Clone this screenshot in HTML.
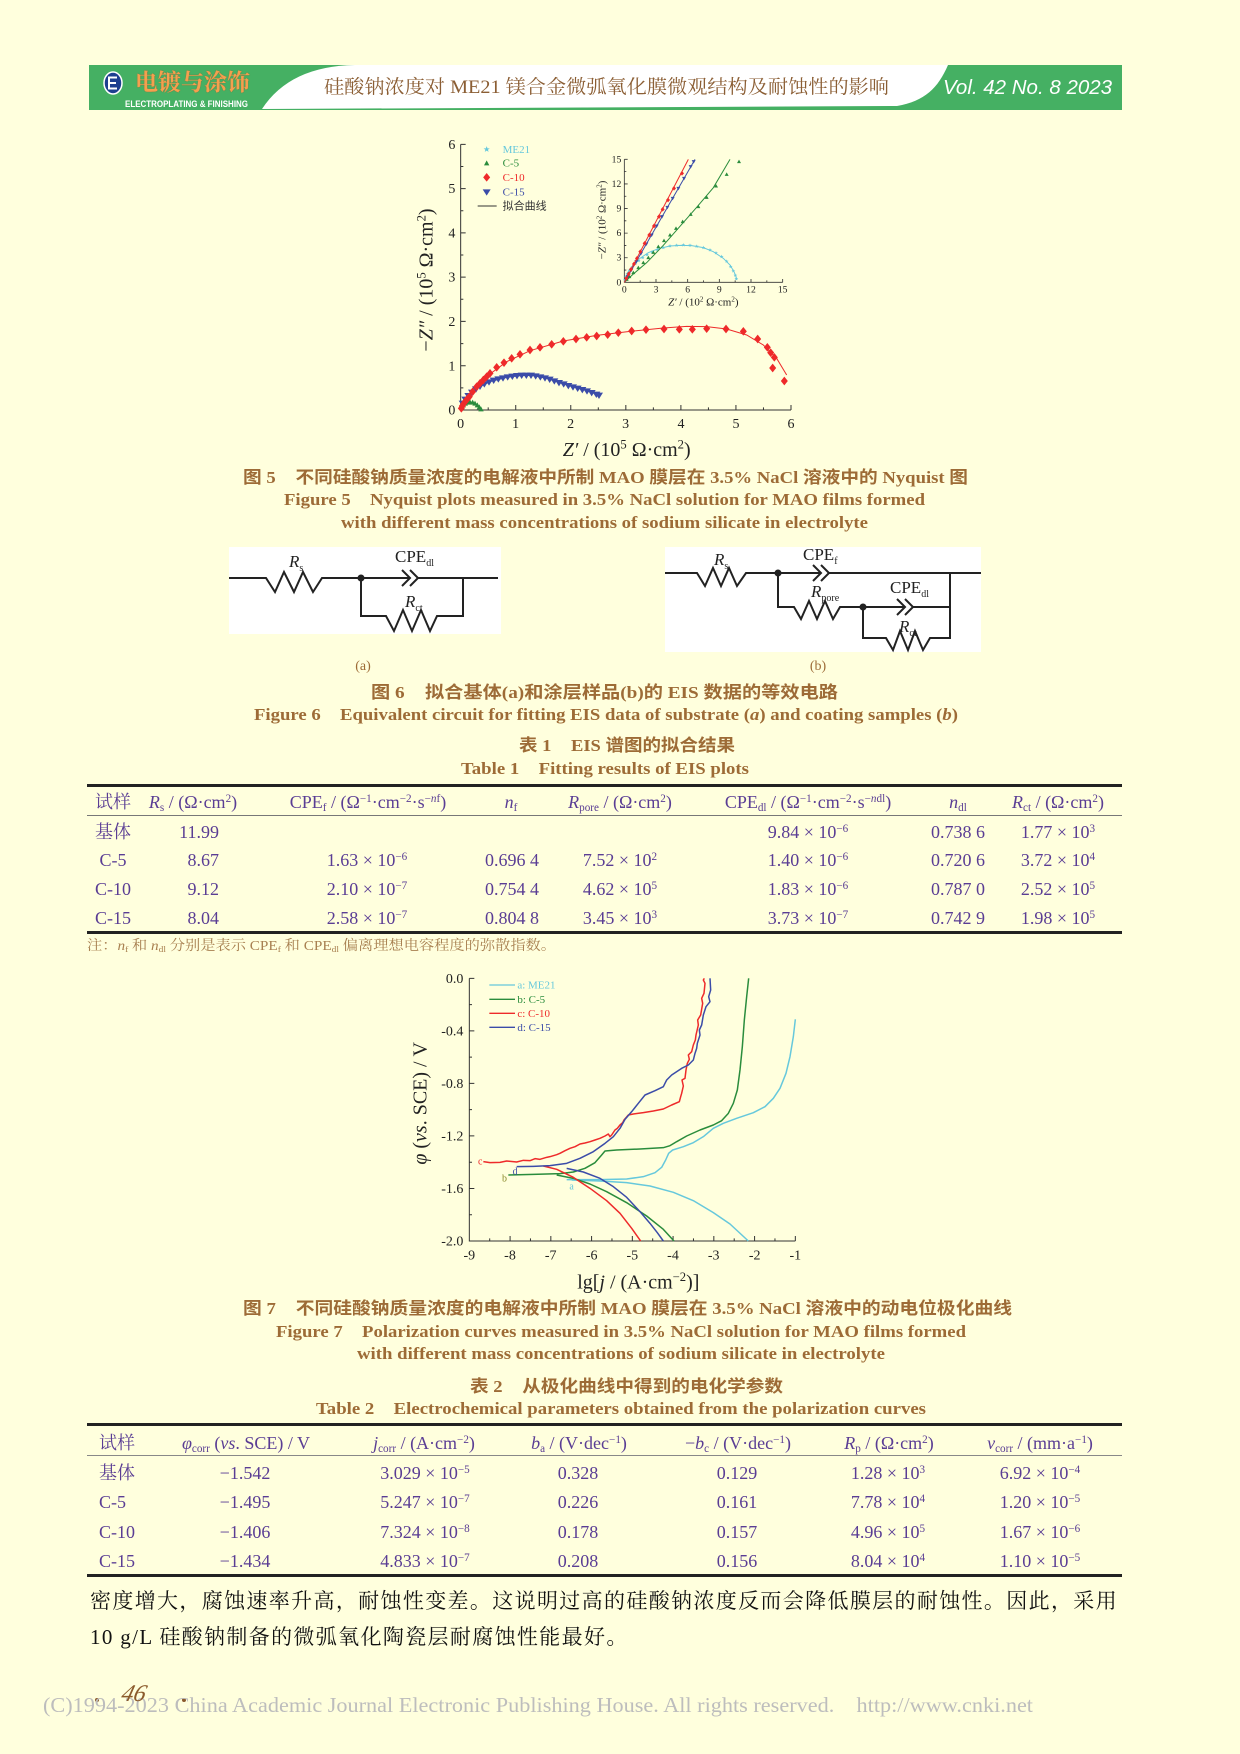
<!DOCTYPE html>
<html><head><meta charset="utf-8"><style>
html,body{margin:0;padding:0}
body{width:1240px;height:1754px;position:relative;overflow:hidden;background:#ffffdd;font-family:"Liberation Serif","Noto Serif CJK SC",serif}
.t{position:absolute;white-space:nowrap;line-height:1}
.fit{transform-origin:0 50%}
.cap{color:#9d6b36;font-weight:bold;font-family:"Liberation Serif","Noto Sans CJK SC",sans-serif}
.tb{color:#5a3d94;font-size:18px}
.c{position:absolute;white-space:nowrap;line-height:20px;transform:translateX(-50%)}
.r{position:absolute;white-space:nowrap;line-height:20px;transform:translateX(-100%)}
.l{position:absolute;white-space:nowrap;line-height:20px}
sup,sub{font-size:.62em;line-height:0;position:relative;vertical-align:baseline}
sup{top:-.5em} sub{top:.28em}
.hr{position:absolute;left:87px;width:1035px;background:#222}
</style></head><body>

<svg width="1240" height="1754" style="position:absolute;left:0;top:0" xmlns="http://www.w3.org/2000/svg">
<defs>
<path id="dia" d="M0,-13 L10.5,0 L0,13 L-10.5,0Z" fill="#ee2a2a"/>
<path id="tdn" d="M-12,-8 L12,-8 L0,11Z" fill="#3b4ca8"/>
<path id="tup" d="M-8,7 L8,7 L0,-8Z" fill="#2a8c3c"/>
<path id="dias" d="M0,-7 L6,0 L0,7 L-6,0Z" fill="#ee2a2a"/>
<path id="tdns" d="M-6,-4.5 L6,-4.5 L0,6Z" fill="#3b4ca8"/>
<path id="tups" d="M-6,4.5 L6,4.5 L0,-6Z" fill="#2a8c3c"/>
<path id="stars" d="M0,-6 L1.6,-1.9 L5.8,-1.8 L2.4,0.8 L3.6,4.8 L0,2.4 L-3.6,4.8 L-2.4,0.8 L-5.8,-1.8 L-1.6,-1.9Z" fill="#66c8dc"/>
</defs>

<!-- header -->
<rect x="89" y="65" width="1033" height="45" fill="#45b063"/>
<path d="M262,109 Q290,66 355,65 L948,65 C938,88 925,101 897,106 L262,109Z" fill="#fff"/>
<ellipse cx="113" cy="83" rx="9" ry="11" fill="#1d3f8f" stroke="#fff" stroke-width="1.5"/>
<path d="M108,77.5 h9 M108,83 h8 M108,88.5 h9 M109,77 v12" stroke="#fff" stroke-width="2" fill="none"/>

<!-- Nyquist chart -->
<g transform="translate(380,120) scale(0.333333)" font-family="Liberation Serif, Noto Serif CJK SC, serif">
<path d="M242,73 V870 H1233" stroke="#333" stroke-width="3" fill="none"/>
<path d="M242,870h15M242,737.2h15M242,604.3h15M242,471.5h15M242,338.7h15M242,205.8h15M242,73h15M407.2,870v-15M572.3,870v-15M737.5,870v-15M902.7,870v-15M1067.8,870v-15M1233,870v-15" stroke="#333" stroke-width="3"/>
<path d="M242,803.6h8M242,670.8h8M242,537.9h8M242,405.1h8M242,272.3h8M242,139.4h8M324.6,870v-8M489.8,870v-8M654.9,870v-8M820.1,870v-8M985.3,870v-8M1150.4,870v-8" stroke="#333" stroke-width="3"/>
<g font-size="42" fill="#222" text-anchor="end">
<text x="226" y="884">0</text><text x="226" y="751">1</text><text x="226" y="618">2</text><text x="226" y="485">3</text><text x="226" y="352">4</text><text x="226" y="219">5</text><text x="226" y="87">6</text>
</g>
<g font-size="42" fill="#222" text-anchor="middle">
<text x="242" y="924">0</text><text x="407" y="924">1</text><text x="572" y="924">2</text><text x="737" y="924">3</text><text x="903" y="924">4</text><text x="1068" y="924">5</text><text x="1233" y="924">6</text>
</g>
<text transform="translate(158,480) rotate(-90)" text-anchor="middle" font-size="60" fill="#222">−<tspan font-style="italic">Z″</tspan> / (10<tspan font-size="38" dy="-22">5</tspan><tspan dy="22"> Ω·cm</tspan><tspan font-size="38" dy="-22">2</tspan><tspan dy="22">)</tspan></text>
<text x="740" y="1008" text-anchor="middle" font-size="60" fill="#222"><tspan font-style="italic">Z′</tspan> / (10<tspan font-size="38" dy="-22">5</tspan><tspan dy="22"> Ω·cm</tspan><tspan font-size="38" dy="-22">2</tspan><tspan dy="22">)</tspan></text>

<!-- legend -->
<use href="#stars" transform="translate(320,88) scale(1.6)"/>
<use href="#tup" x="320" y="129"/>
<use href="#dia" x="320" y="172"/>
<use href="#tdn" x="320" y="216"/>
<line x1="293" y1="258" x2="350" y2="258" stroke="#333" stroke-width="3"/>
<g font-size="33">
<text x="368" y="99" fill="#66c8dc">ME21</text>
<text x="368" y="140" fill="#2a8c3c">C-5</text>
<text x="368" y="183" fill="#ee2a2a">C-10</text>
<text x="368" y="227" fill="#3b4ca8">C-15</text>
<text x="368" y="269" fill="#333" font-family="Noto Sans CJK SC, sans-serif">拟合曲线</text>
</g>

<!-- green C-5 main -->
<path d="M242,870 Q250,850 265,846 Q285,844 305,869" stroke="#2a8c3c" stroke-width="3" fill="none"/>
<g>
<use href="#tup" x="245" y="862"/><use href="#tup" x="250" y="855"/><use href="#tup" x="256" y="850"/><use href="#tup" x="263" y="847"/><use href="#tup" x="270" y="846"/><use href="#tup" x="278" y="847"/><use href="#tup" x="285" y="850"/><use href="#tup" x="292" y="855"/><use href="#tup" x="298" y="861"/><use href="#tup" x="303" y="867"/>
</g>
<!-- blue C-15 -->
<path d="M242,868 L262,830 L290,805 L330,785 L380,772 L430,766 L460,767 L500,775 L560,795 L620,812 L660,826" stroke="#3b4ca8" stroke-width="3" fill="none"/>
<g>
<use href="#tdn" x="248" y="850"/><use href="#tdn" x="256" y="838"/><use href="#tdn" x="265" y="827"/><use href="#tdn" x="276" y="817"/><use href="#tdn" x="288" y="807"/><use href="#tdn" x="300" y="799"/><use href="#tdn" x="313" y="792"/><use href="#tdn" x="327" y="786"/><use href="#tdn" x="341" y="781"/><use href="#tdn" x="355" y="777"/><use href="#tdn" x="369" y="774"/><use href="#tdn" x="383" y="771"/><use href="#tdn" x="397" y="769"/><use href="#tdn" x="411" y="767"/><use href="#tdn" x="425" y="766"/><use href="#tdn" x="439" y="766"/><use href="#tdn" x="453" y="766"/><use href="#tdn" x="467" y="768"/><use href="#tdn" x="481" y="771"/><use href="#tdn" x="495" y="774"/><use href="#tdn" x="509" y="778"/><use href="#tdn" x="523" y="783"/><use href="#tdn" x="537" y="788"/><use href="#tdn" x="551" y="792"/><use href="#tdn" x="565" y="797"/><use href="#tdn" x="579" y="801"/><use href="#tdn" x="593" y="805"/><use href="#tdn" x="607" y="809"/><use href="#tdn" x="621" y="813"/><use href="#tdn" x="635" y="818"/><use href="#tdn" x="649" y="823"/><use href="#tdn" x="657" y="826"/>
</g>
<!-- red C-10 -->
<path d="M242,870 L260,835 L290,800 L330,762 L380,725 L450,692 L550,663 L650,646 L750,634 L850,624 L920,619 L980,620 L1040,627 L1100,645 L1150,675 L1190,715 L1220,765" stroke="#ee2a2a" stroke-width="3" fill="none"/>
<g>
<use href="#dia" x="244" y="865"/><use href="#dia" x="247" y="858"/><use href="#dia" x="251" y="851"/><use href="#dia" x="256" y="844"/><use href="#dia" x="262" y="837"/><use href="#dia" x="268" y="830"/><use href="#dia" x="278" y="815"/><use href="#dia" x="290" y="800"/><use href="#dia" x="300" y="790"/><use href="#dia" x="310" y="780"/><use href="#dia" x="320" y="770"/><use href="#dia" x="330" y="760"/><use href="#dia" x="350" y="742"/><use href="#dia" x="372" y="728"/><use href="#dia" x="395" y="715"/><use href="#dia" x="420" y="703"/><use href="#dia" x="450" y="690"/><use href="#dia" x="480" y="682"/><use href="#dia" x="515" y="673"/><use href="#dia" x="550" y="664"/><use href="#dia" x="588" y="657"/><use href="#dia" x="620" y="652"/><use href="#dia" x="650" y="648"/><use href="#dia" x="683" y="644"/><use href="#dia" x="715" y="638"/><use href="#dia" x="755" y="633"/><use href="#dia" x="798" y="629"/><use href="#dia" x="852" y="627"/><use href="#dia" x="898" y="628"/><use href="#dia" x="937" y="628"/><use href="#dia" x="980" y="626"/><use href="#dia" x="1038" y="627"/><use href="#dia" x="1090" y="634"/><use href="#dia" x="1133" y="657"/><use href="#dia" x="1162" y="682"/><use href="#dia" x="1172" y="698"/><use href="#dia" x="1183" y="712"/><use href="#dia" x="1178" y="744"/><use href="#dia" x="1213" y="783"/>
</g>

<!-- inset -->
<path d="M733,118 V487 H1208" stroke="#333" stroke-width="2.5" fill="none"/>
<path d="M733,413.2h10M733,339.4h10M733,265.6h10M733,191.8h10M733,118h10M828,487v-10M923,487v-10M1018,487v-10M1113,487v-10M1208,487v-10M733,450.1h6M733,376.3h6M733,302.5h6M733,228.7h6M733,154.9h6M780.5,487v-6M875.5,487v-6M970.5,487v-6M1065.5,487v-6M1160.5,487v-6" stroke="#333" stroke-width="2.5"/>
<g font-size="29" fill="#222" text-anchor="end">
<text x="724" y="496">0</text><text x="724" y="422">3</text><text x="724" y="348">6</text><text x="724" y="275">9</text><text x="724" y="201">12</text><text x="724" y="127">15</text>
</g>
<g font-size="29" fill="#222" text-anchor="middle">
<text x="733" y="518">0</text><text x="828" y="518">3</text><text x="923" y="518">6</text><text x="1018" y="518">9</text><text x="1113" y="518">12</text><text x="1208" y="518">15</text>
</g>
<text transform="translate(676,300) rotate(-90)" text-anchor="middle" font-size="33" fill="#222">−<tspan font-style="italic">Z″</tspan> / (10<tspan font-size="21" dy="-12">2</tspan><tspan dy="12"> Ω·cm</tspan><tspan font-size="21" dy="-12">2</tspan><tspan dy="12">)</tspan></text>
<text x="970" y="557" text-anchor="middle" font-size="33" fill="#222"><tspan font-style="italic">Z′</tspan> / (10<tspan font-size="21" dy="-12">2</tspan><tspan dy="12"> Ω·cm</tspan><tspan font-size="21" dy="-12">2</tspan><tspan dy="12">)</tspan></text>
<!-- inset cyan -->
<path d="M733,487 L737,475 L745,455 L760,435 L780,415 L805,398 L835,386 L870,378 L900,376 L935,377 L970,383 L1000,395 L1030,415 L1050,435 L1062,455 L1068,470 L1070,480" stroke="#66c8dc" stroke-width="3" fill="none"/>
<g>
<use href="#stars" x="735" y="480"/><use href="#stars" x="738" y="470"/><use href="#stars" x="742" y="461"/><use href="#stars" x="748" y="451"/><use href="#stars" x="757" y="440"/><use href="#stars" x="766" y="431"/><use href="#stars" x="776" y="422"/><use href="#stars" x="788" y="413"/><use href="#stars" x="801" y="404"/><use href="#stars" x="816" y="396"/><use href="#stars" x="832" y="389"/><use href="#stars" x="850" y="383"/><use href="#stars" x="870" y="378"/><use href="#stars" x="890" y="376"/><use href="#stars" x="910" y="375"/><use href="#stars" x="930" y="376"/><use href="#stars" x="950" y="379"/><use href="#stars" x="970" y="383"/><use href="#stars" x="990" y="390"/><use href="#stars" x="1008" y="399"/><use href="#stars" x="1025" y="410"/><use href="#stars" x="1040" y="424"/><use href="#stars" x="1052" y="440"/><use href="#stars" x="1060" y="453"/><use href="#stars" x="1066" y="466"/><use href="#stars" x="1069" y="476"/>
</g>
<!-- inset green -->
<path d="M733,487 L760,462 L800,428 L850,376 L900,319 L950,262 L1000,203 L1050,118" stroke="#2a8c3c" stroke-width="3" fill="none"/>
<g>
<use href="#tups" x="740" y="478"/><use href="#tups" x="748" y="470"/><use href="#tups" x="760" y="458"/><use href="#tups" x="775" y="443"/><use href="#tups" x="790" y="428"/><use href="#tups" x="805" y="413"/><use href="#tups" x="820" y="397"/><use href="#tups" x="835" y="380"/><use href="#tups" x="852" y="362"/><use href="#tups" x="870" y="345"/><use href="#tups" x="888" y="325"/><use href="#tups" x="908" y="305"/><use href="#tups" x="932" y="283"/><use href="#tups" x="955" y="260"/><use href="#tups" x="980" y="232"/><use href="#tups" x="1008" y="198"/><use href="#tups" x="1040" y="163"/><use href="#tups" x="1077" y="125"/>
</g>
<!-- inset blue -->
<path d="M733,487 L945,118" stroke="#3b4ca8" stroke-width="3"/>
<g>
<use href="#tdns" x="743" y="470"/><use href="#tdns" x="754" y="450"/><use href="#tdns" x="769" y="425"/><use href="#tdns" x="783" y="400"/><use href="#tdns" x="799" y="372"/><use href="#tdns" x="815" y="345"/><use href="#tdns" x="830" y="318"/><use href="#tdns" x="846" y="290"/><use href="#tdns" x="862" y="262"/><use href="#tdns" x="878" y="235"/><use href="#tdns" x="895" y="205"/><use href="#tdns" x="912" y="175"/><use href="#tdns" x="932" y="140"/><use href="#tdns" x="941" y="125"/>
</g>
<!-- inset red -->
<path d="M733,487 L925,118" stroke="#ee2a2a" stroke-width="3"/>
<g>
<use href="#dias" x="739" y="475"/><use href="#dias" x="746" y="462"/><use href="#dias" x="753" y="448"/><use href="#dias" x="762" y="432"/><use href="#dias" x="771" y="415"/><use href="#dias" x="781" y="395"/><use href="#dias" x="794" y="370"/><use href="#dias" x="808" y="345"/><use href="#dias" x="822" y="318"/><use href="#dias" x="837" y="290"/><use href="#dias" x="848" y="268"/><use href="#dias" x="864" y="240"/><use href="#dias" x="882" y="205"/><use href="#dias" x="906" y="160"/>
</g>
</g>

<!-- circuit (a) -->
<rect x="229" y="547" width="272" height="87" fill="#fff"/>
<g stroke="#222" stroke-width="2" fill="none" stroke-linejoin="miter">
<path d="M229,578 H266 L275,592 L284,572 L294,592 L303,572 L313,592 L322,578 H410"/>
<path d="M402,570 L410,578 L402,586 M410,570 L418,578 L410,586"/>
<path d="M418,578 H498 M463,578 V616 H437 L430,631 L421,610 L412,631 L403,610 L394,631 L386,616 H361 V578"/>
</g>
<circle cx="361" cy="578" r="3.5" fill="#222"/>
<g font-family="Liberation Serif, serif" font-size="17" fill="#222">
<text x="289" y="567"><tspan font-style="italic">R</tspan><tspan font-size="10" dy="4">s</tspan></text>
<text x="395" y="562">CPE<tspan font-size="10" dy="4">dl</tspan></text>
<text x="405" y="607"><tspan font-style="italic">R</tspan><tspan font-size="10" dy="4">ct</tspan></text>
</g>

<!-- circuit (b) -->
<rect x="665" y="547" width="316" height="105" fill="#fff"/>
<g stroke="#222" stroke-width="2" fill="none">
<path d="M665,573 H697 L705,586 L713,568 L721,586 L729,568 L737,586 L746,573 H820"/>
<path d="M813,565 L821,573 L813,581 M821,565 L829,573 L821,581"/>
<path d="M829,573 H981 M950,573 V638 H930 L923,650 L915,631 L908,650 L900,631 L893,650 L886,638 H863 V607"/>
<path d="M778,573 V607 H794 L801,619 L809,601 L817,619 L825,601 L833,619 L840,607 H904"/>
<path d="M897,599 L905,607 L897,615 M905,599 L913,607 L905,615"/>
<path d="M913,607 H950"/>
</g>
<circle cx="778" cy="573" r="3.5" fill="#222"/>
<circle cx="863" cy="607" r="3.5" fill="#222"/>
<g font-family="Liberation Serif, serif" font-size="17" fill="#222">
<text x="714" y="565"><tspan font-style="italic">R</tspan><tspan font-size="10" dy="4">s</tspan></text>
<text x="803" y="560">CPE<tspan font-size="10" dy="4">f</tspan></text>
<text x="811" y="597"><tspan font-style="italic">R</tspan><tspan font-size="10" dy="4">pore</tspan></text>
<text x="890" y="593">CPE<tspan font-size="10" dy="4">dl</tspan></text>
<text x="899" y="632"><tspan font-style="italic">R</tspan><tspan font-size="10" dy="4">ct</tspan></text>
</g>

<!-- Polarization chart -->
<g transform="translate(400,960) scale(0.333333)" font-family="Liberation Serif, serif">
<path d="M208,55 V843 H1186" stroke="#333" stroke-width="3" fill="none"/>
<path d="M208,55h15M208,212.6h15M208,370.2h15M208,527.8h15M208,685.4h15M330.25,843v-15M452.5,843v-15M574.75,843v-15M697,843v-15M819.25,843v-15M941.5,843v-15M1063.75,843v-15M1186,843v-15" stroke="#333" stroke-width="3"/>
<path d="M208,133.8h8M208,291.4h8M208,449h8M208,606.6h8M208,764.2h8M269.1,843v-8M391.4,843v-8M513.6,843v-8M635.9,843v-8M758.1,843v-8M880.4,843v-8M1002.6,843v-8M1124.9,843v-8" stroke="#333" stroke-width="3"/>
<g font-size="42" fill="#222" text-anchor="end">
<text x="190" y="69">0.0</text><text x="190" y="227">-0.4</text><text x="190" y="384">-0.8</text><text x="190" y="542">-1.2</text><text x="190" y="699">-1.6</text><text x="190" y="857">-2.0</text>
</g>
<g font-size="42" fill="#222" text-anchor="middle">
<text x="208" y="898">-9</text><text x="330" y="898">-8</text><text x="452" y="898">-7</text><text x="575" y="898">-6</text><text x="697" y="898">-5</text><text x="819" y="898">-4</text><text x="941" y="898">-3</text><text x="1064" y="898">-2</text><text x="1186" y="898">-1</text>
</g>
<text transform="translate(80,430) rotate(-90)" text-anchor="middle" font-size="60" fill="#222"><tspan font-style="italic">φ</tspan> (<tspan font-style="italic">vs</tspan>. SCE) / V</text>
<text x="715" y="985" text-anchor="middle" font-size="60" fill="#222">lg[<tspan font-style="italic">j</tspan> / (A·cm<tspan font-size="38" dy="-22">−2</tspan><tspan dy="22">)]</tspan></text>
<!-- legend -->
<g stroke-width="4">
<line x1="268" y1="75" x2="345" y2="75" stroke="#66c8dc"/>
<line x1="268" y1="118" x2="345" y2="118" stroke="#2a8c3c"/>
<line x1="268" y1="160" x2="345" y2="160" stroke="#ee2a2a"/>
<line x1="268" y1="202" x2="345" y2="202" stroke="#3b4ca8"/>
</g>
<g font-size="33">
<text x="352" y="86" fill="#66c8dc">a: ME21</text>
<text x="352" y="129" fill="#2a8c3c">b: C-5</text>
<text x="352" y="171" fill="#ee2a2a">c: C-10</text>
<text x="352" y="213" fill="#3b4ca8">d: C-15</text>
</g>
<g fill="none" stroke-width="4.5" stroke-linejoin="round">
<path stroke="#66c8dc" d="M515,660 L600,663 L680,668 L750,678 L820,697 L880,722 L940,758 L990,792 L1045,843"/>
<path stroke="#66c8dc" d="M500,659 L600,659 L680,657 L730,650 L765,638 L785,622 L797,600 L806,580 L818,570 L850,560 L880,548 L910,530 L940,505 L970,490 L1010,475 L1060,458 L1095,440 L1120,415 L1140,385 L1158,340 L1170,290 L1180,230 L1186,178"/>
<path stroke="#2a8c3c" d="M325,645 L400,643 L480,641 L520,636 L555,625 L585,608 L605,585 L615,573 L650,570 L720,567 L790,563 L810,557 L830,545 L860,528 L900,510 L940,495 L965,482 L985,460 L1000,430 L1012,390 L1020,330 L1027,260 L1033,180 L1040,110 L1046,55"/>
<path stroke="#2a8c3c" d="M470,645 L520,655 L570,672 L620,695 L680,728 L740,768 L790,808 L822,843"/>
<path stroke="#ee2a2a" d="M250,605 L270,608 L300,607 L320,603 L350,606 L370,601 L390,602 L405,596 L420,598 L440,592 L450,590 L470,584 L480,580 L495,572 L510,565 L525,560 L540,552 L555,549 L570,545 L585,540 L600,535 L615,528 L625,522 L630,530 L635,525 L645,510 L652,505 L660,495 L668,488 L672,480 L685,465 L700,462 L730,458 L760,453 L790,447 L815,435 L838,425 L842,410 L845,400 L850,378 L846,360 L855,355 L858,330 L862,310 L868,298 L865,285 L875,275 L880,255 L886,240 L888,225 L895,195 L893,180 L902,165 L908,130 L905,115 L912,100 L915,70 L910,60 L913,55"/>
<path stroke="#ee2a2a" d="M430,618 L470,628 L520,652 L570,685 L620,722 L660,760 L695,805 L722,843"/>
<path stroke="#3b4ca8" d="M350,620 L400,619 L450,617 L500,610 L540,595 L580,575 L615,550 L640,530 L660,505 L675,478 L695,455 L715,430 L735,405 L765,392 L790,380 L795,370 L800,360 L815,345 L845,325 L865,315 L880,300 L885,280 L890,265 L892,250 L900,225 L898,210 L905,195 L910,165 L918,140 L930,125 L926,110 L932,90 L930,55"/>
<path stroke="#3b4ca8" d="M500,625 L550,636 L600,655 L640,680 L680,712 L720,755 L750,790 L772,818 L790,843"/>
</g>
<g font-size="30">
<text x="234" y="614" fill="#ee2a2a">c</text>
<text x="338" y="643" fill="#3b4ca8">d</text>
<text x="306" y="664" fill="#8a8a2a">b</text>
<text x="508" y="688" fill="#66c8dc">a</text>
</g>
</g>

<!-- footer page no. -->
<circle cx="97" cy="1700" r="2" fill="#8b5a2b"/>
<circle cx="184" cy="1700" r="2" fill="#8b5a2b"/>
</svg>

<!-- header text -->
<div class="t" style="left:135px;top:69px;font-size:23px;font-weight:bold;color:#f4a04e;font-family:'Noto Serif CJK SC',serif;text-shadow:0 0 1px #a0522d">电镀与涂饰</div>
<div class="t fit" style="left:125px;top:100px;font-size:9px;font-weight:bold;color:#fff;font-family:'Liberation Sans',sans-serif;--w:123">ELECTROPLATING &amp; FINISHING</div>
<div class="t fit" style="left:324px;top:78px;font-size:19px;color:#8b5e34;font-family:'Liberation Serif','Noto Serif CJK SC',serif;--w:565">硅酸钠浓度对 ME21 镁合金微弧氧化膜微观结构及耐蚀性的影响</div>
<div class="t" style="left:943px;top:78px;font-size:20.5px;color:#fff;font-style:italic;font-family:'Liberation Sans',sans-serif">Vol. 42 No. 8 2023</div>

<!-- captions -->
<div class="t cap fit" style="left:243px;top:469px;font-size:17px;--w:725">图 5<span style="margin-left:18px"></span>不同硅酸钠质量浓度的电解液中所制 MAO 膜层在 3.5% NaCl 溶液中的 Nyquist 图</div>
<div class="t cap fit" style="left:284px;top:492px;font-size:16.5px;--w:641">Figure 5<span style="margin-left:17px"></span>Nyquist plots measured in 3.5% NaCl solution for MAO films formed</div>
<div class="t cap fit" style="left:341px;top:515px;font-size:16.5px;--w:527">with different mass concentrations of sodium silicate in electrolyte</div>

<div class="c" style="left:363px;top:657px;font-size:14px;color:#9d6b36">(a)</div>
<div class="c" style="left:818px;top:657px;font-size:14px;color:#9d6b36">(b)</div>

<div class="t cap fit" style="left:371px;top:684px;font-size:17px;--w:467">图 6<span style="margin-left:18px"></span>拟合基体(a)和涂层样品(b)的 EIS 数据的等效电路</div>
<div class="t cap fit" style="left:254px;top:707px;font-size:16.5px;--w:704">Figure 6<span style="margin-left:17px"></span>Equivalent circuit for fitting EIS data of substrate (<i>a</i>) and coating samples (<i>b</i>)</div>

<div class="t cap fit" style="left:519px;top:737px;font-size:17px;--w:216">表 1<span style="margin-left:18px"></span>EIS 谱图的拟合结果</div>
<div class="t cap fit" style="left:461px;top:761px;font-size:16.5px;--w:288">Table 1<span style="margin-left:17px"></span>Fitting results of EIS plots</div>

<!-- table 1 -->
<div class="hr" style="top:784px;height:2.5px"></div>
<div class="hr" style="top:815px;height:1px;background:#777"></div>
<div class="hr" style="top:931px;height:2.5px"></div>
<div class="tb">
<div class="c" style="left:113px;top:792px">试样</div>
<div class="c" style="left:193px;top:792px"><i>R</i><sub>s</sub> / (Ω·cm<sup>2</sup>)</div>
<div class="c" style="left:368px;top:792px">CPE<sub>f</sub> / (Ω<sup>−1</sup>·cm<sup>−2</sup>·s<sup>−<i>n</i>f</sup>)</div>
<div class="c" style="left:511px;top:792px"><i>n</i><sub>f</sub></div>
<div class="c" style="left:620px;top:792px"><i>R</i><sub>pore</sub> / (Ω·cm<sup>2</sup>)</div>
<div class="c" style="left:808px;top:792px">CPE<sub>dl</sub> / (Ω<sup>−1</sup>·cm<sup>−2</sup>·s<sup>−<i>n</i>dl</sup>)</div>
<div class="c" style="left:958px;top:792px"><i>n</i><sub>dl</sub></div>
<div class="c" style="left:1058px;top:792px"><i>R</i><sub>ct</sub> / (Ω·cm<sup>2</sup>)</div>

<div class="c" style="left:113px;top:822px">基体</div>
<div class="r" style="left:219px;top:822px">11.99</div>
<div class="c" style="left:808px;top:822px">9.84 × 10<sup>−6</sup></div>
<div class="c" style="left:958px;top:822px">0.738 6</div>
<div class="c" style="left:1058px;top:822px">1.77 × 10<sup>3</sup></div>

<div class="c" style="left:113px;top:850px">C-5</div>
<div class="r" style="left:219px;top:850px">8.67</div>
<div class="c" style="left:367px;top:850px">1.63 × 10<sup>−6</sup></div>
<div class="c" style="left:512px;top:850px">0.696 4</div>
<div class="c" style="left:620px;top:850px">7.52 × 10<sup>2</sup></div>
<div class="c" style="left:808px;top:850px">1.40 × 10<sup>−6</sup></div>
<div class="c" style="left:958px;top:850px">0.720 6</div>
<div class="c" style="left:1058px;top:850px">3.72 × 10<sup>4</sup></div>

<div class="c" style="left:113px;top:879px">C-10</div>
<div class="r" style="left:219px;top:879px">9.12</div>
<div class="c" style="left:367px;top:879px">2.10 × 10<sup>−7</sup></div>
<div class="c" style="left:512px;top:879px">0.754 4</div>
<div class="c" style="left:620px;top:879px">4.62 × 10<sup>5</sup></div>
<div class="c" style="left:808px;top:879px">1.83 × 10<sup>−6</sup></div>
<div class="c" style="left:958px;top:879px">0.787 0</div>
<div class="c" style="left:1058px;top:879px">2.52 × 10<sup>5</sup></div>

<div class="c" style="left:113px;top:908px">C-15</div>
<div class="r" style="left:219px;top:908px">8.04</div>
<div class="c" style="left:367px;top:908px">2.58 × 10<sup>−7</sup></div>
<div class="c" style="left:512px;top:908px">0.804 8</div>
<div class="c" style="left:620px;top:908px">3.45 × 10<sup>3</sup></div>
<div class="c" style="left:808px;top:908px">3.73 × 10<sup>−7</sup></div>
<div class="c" style="left:958px;top:908px">0.742 9</div>
<div class="c" style="left:1058px;top:908px">1.98 × 10<sup>5</sup></div>
</div>

<div class="t fit" style="left:87px;top:940px;font-size:14px;color:#a88050;--w:469">注：<i>n</i><sub>f</sub> 和 <i>n</i><sub>dl</sub> 分别是表示 CPE<sub>f</sub> 和 CPE<sub>dl</sub> 偏离理想电容程度的弥散指数。</div>

<!-- fig 7 captions -->
<div class="t cap fit" style="left:243px;top:1300px;font-size:17px;--w:769">图 7<span style="margin-left:18px"></span>不同硅酸钠质量浓度的电解液中所制 MAO 膜层在 3.5% NaCl 溶液中的动电位极化曲线</div>
<div class="t cap fit" style="left:276px;top:1324px;font-size:16.5px;--w:690">Figure 7<span style="margin-left:17px"></span>Polarization curves measured in 3.5% NaCl solution for MAO films formed</div>
<div class="t cap fit" style="left:357px;top:1346px;font-size:16.5px;--w:528">with different mass concentrations of sodium silicate in electrolyte</div>

<div class="t cap fit" style="left:470px;top:1378px;font-size:17px;--w:313">表 2<span style="margin-left:18px"></span>从极化曲线中得到的电化学参数</div>
<div class="t cap fit" style="left:316px;top:1401px;font-size:16.5px;--w:610">Table 2<span style="margin-left:17px"></span>Electrochemical parameters obtained from the polarization curves</div>

<!-- table 2 -->
<div class="hr" style="top:1423px;height:2.5px"></div>
<div class="hr" style="top:1455px;height:1.2px;background:#888"></div>
<div class="hr" style="top:1574px;height:2.5px"></div>
<div class="tb">
<div class="l" style="left:99px;top:1433px">试样</div>
<div class="c" style="left:246px;top:1433px"><i>φ</i><sub>corr</sub> (<i>vs</i>. SCE) / V</div>
<div class="c" style="left:424px;top:1433px"><i>j</i><sub>corr</sub> / (A·cm<sup>−2</sup>)</div>
<div class="c" style="left:579px;top:1433px"><i>b</i><sub>a</sub> / (V·dec<sup>−1</sup>)</div>
<div class="c" style="left:738px;top:1433px">−<i>b</i><sub>c</sub> / (V·dec<sup>−1</sup>)</div>
<div class="c" style="left:889px;top:1433px"><i>R</i><sub>p</sub> / (Ω·cm<sup>2</sup>)</div>
<div class="c" style="left:1040px;top:1433px"><i>v</i><sub>corr</sub> / (mm·a<sup>−1</sup>)</div>

<div class="l" style="left:99px;top:1463px">基体</div>
<div class="c" style="left:245px;top:1463px">−1.542</div>
<div class="c" style="left:425px;top:1463px">3.029 × 10<sup>−5</sup></div>
<div class="c" style="left:578px;top:1463px">0.328</div>
<div class="c" style="left:737px;top:1463px">0.129</div>
<div class="c" style="left:888px;top:1463px">1.28 × 10<sup>3</sup></div>
<div class="c" style="left:1040px;top:1463px">6.92 × 10<sup>−4</sup></div>

<div class="l" style="left:99px;top:1492px">C-5</div>
<div class="c" style="left:245px;top:1492px">−1.495</div>
<div class="c" style="left:425px;top:1492px">5.247 × 10<sup>−7</sup></div>
<div class="c" style="left:578px;top:1492px">0.226</div>
<div class="c" style="left:737px;top:1492px">0.161</div>
<div class="c" style="left:888px;top:1492px">7.78 × 10<sup>4</sup></div>
<div class="c" style="left:1040px;top:1492px">1.20 × 10<sup>−5</sup></div>

<div class="l" style="left:99px;top:1522px">C-10</div>
<div class="c" style="left:245px;top:1522px">−1.406</div>
<div class="c" style="left:425px;top:1522px">7.324 × 10<sup>−8</sup></div>
<div class="c" style="left:578px;top:1522px">0.178</div>
<div class="c" style="left:737px;top:1522px">0.157</div>
<div class="c" style="left:888px;top:1522px">4.96 × 10<sup>5</sup></div>
<div class="c" style="left:1040px;top:1522px">1.67 × 10<sup>−6</sup></div>

<div class="l" style="left:99px;top:1551px">C-15</div>
<div class="c" style="left:245px;top:1551px">−1.434</div>
<div class="c" style="left:425px;top:1551px">4.833 × 10<sup>−7</sup></div>
<div class="c" style="left:578px;top:1551px">0.208</div>
<div class="c" style="left:737px;top:1551px">0.156</div>
<div class="c" style="left:888px;top:1551px">8.04 × 10<sup>4</sup></div>
<div class="c" style="left:1040px;top:1551px">1.10 × 10<sup>−5</sup></div>
</div>

<!-- body text -->
<div class="t fit" style="left:90px;top:1591px;font-size:21px;letter-spacing:1.35px;color:#111;--w:1028">密度增大，腐蚀速率升高，耐蚀性变差。这说明过高的硅酸钠浓度反而会降低膜层的耐蚀性。因此，采用</div>
<div class="t" style="left:90px;top:1627px;font-size:21px;letter-spacing:1.35px;color:#111">10 g/L 硅酸钠制备的微弧氧化陶瓷层耐腐蚀性能最好。</div>

<!-- footer -->
<div class="t fit" style="left:43px;top:1695px;font-size:21px;color:#bdbdbd;--w:990">(C)1994-2023 China Academic Journal Electronic Publishing House. All rights reserved.&nbsp;&nbsp;&nbsp;&nbsp;http://www.cnki.net</div>
<div class="t" style="left:122px;top:1682px;font-size:24px;font-style:italic;color:#8b5a2b;transform:skewX(-15deg)">46</div>

<script>
(function(){
function fit(){
var els=document.querySelectorAll('.fit');
for(var i=0;i<els.length;i++){
var e=els[i];var w=parseFloat(getComputedStyle(e).getPropertyValue('--w'));
e.style.transform='none';
var n=e.getBoundingClientRect().width;
if(n>0&&w>0){e.style.transform='scaleX('+(w/n)+')';}
}}
fit();window.addEventListener('load',fit);
})();
</script>
</body></html>
